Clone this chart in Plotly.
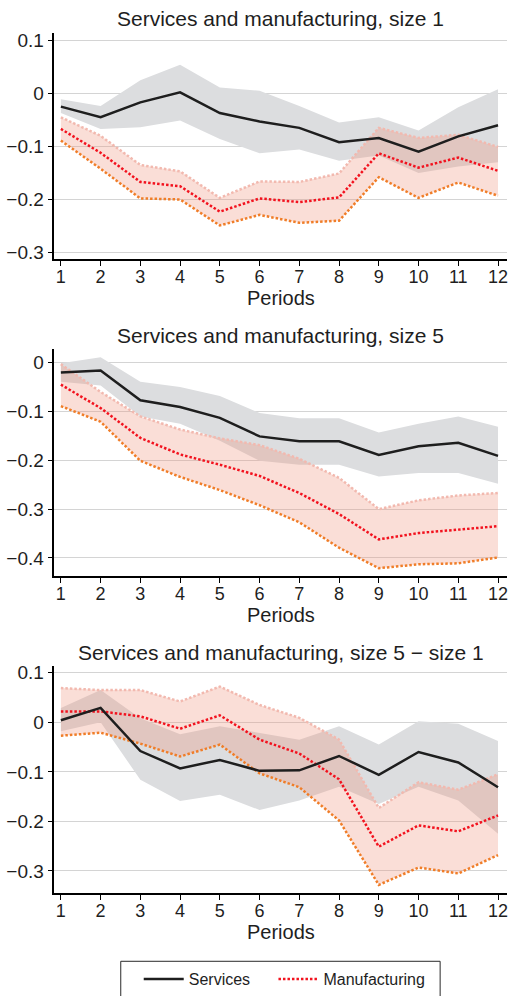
import plotly.graph_objects as go

# Horizon (periods after the shock)
periods = list(range(1, 13))

# Panel 1: size 1
svc1 = [-0.025, -0.045, -0.017, 0.002, -0.037, -0.053, -0.065, -0.092, -0.084, -0.110, -0.081, -0.060]
svc1_hi = [-0.011, -0.024, 0.025, 0.054, 0.011, 0.005, -0.024, -0.055, -0.045, -0.070, -0.026, 0.008]
svc1_lo = [-0.037, -0.067, -0.064, -0.051, -0.086, -0.113, -0.106, -0.127, -0.117, -0.150, -0.138, -0.130]
man1 = [-0.067, -0.112, -0.167, -0.175, -0.223, -0.198, -0.205, -0.196, -0.113, -0.140, -0.121, -0.146]
man1_hi = [-0.045, -0.080, -0.135, -0.147, -0.197, -0.166, -0.167, -0.151, -0.065, -0.084, -0.078, -0.101]
man1_lo = [-0.089, -0.142, -0.198, -0.200, -0.249, -0.229, -0.244, -0.240, -0.158, -0.197, -0.168, -0.193]

# Panel 2: size 5
svc5 = [-0.020, -0.016, -0.077, -0.091, -0.113, -0.151, -0.161, -0.161, -0.189, -0.171, -0.164, -0.191]
svc5_hi = [-0.001, 0.011, -0.039, -0.050, -0.068, -0.103, -0.114, -0.114, -0.143, -0.125, -0.110, -0.131]
svc5_lo = [-0.039, -0.047, -0.110, -0.125, -0.160, -0.201, -0.209, -0.209, -0.233, -0.226, -0.226, -0.248]
man5 = [-0.045, -0.093, -0.154, -0.188, -0.209, -0.232, -0.267, -0.310, -0.362, -0.349, -0.342, -0.335]
man5_hi = [-0.003, -0.060, -0.110, -0.137, -0.155, -0.169, -0.197, -0.236, -0.300, -0.282, -0.272, -0.267]
man5_lo = [-0.089, -0.121, -0.201, -0.234, -0.261, -0.292, -0.327, -0.379, -0.421, -0.413, -0.411, -0.399]

# Panel 3: size 5 - size 1
svcd = [0.004, 0.029, -0.058, -0.093, -0.076, -0.098, -0.097, -0.068, -0.106, -0.060, -0.081, -0.131]
svcd_hi = [0.029, 0.065, 0.008, -0.024, -0.008, -0.021, -0.035, -0.008, -0.045, 0.002, -0.003, -0.038]
svcd_lo = [-0.018, 0.000, -0.116, -0.159, -0.146, -0.177, -0.158, -0.130, -0.165, -0.130, -0.158, -0.225]
mand = [0.022, 0.022, 0.012, -0.013, 0.014, -0.035, -0.063, -0.115, -0.251, -0.208, -0.220, -0.188]
mand_hi = [0.069, 0.065, 0.065, 0.042, 0.072, 0.035, 0.009, -0.035, -0.173, -0.121, -0.136, -0.105]
mand_lo = [-0.027, -0.021, -0.043, -0.069, -0.045, -0.103, -0.131, -0.198, -0.328, -0.293, -0.305, -0.268]

titles = ["Services and manufacturing, size 1",
          "Services and manufacturing, size 5",
          "Services and manufacturing, size 5 \u2212 size 1"]
y_ticks = [
    [0.1, 0.0, -0.1, -0.2, -0.3],
    [0.0, -0.1, -0.2, -0.3, -0.4],
    [0.1, 0.0, -0.1, -0.2, -0.3],
]
y_ticklabels = [
    ["0.1", "0", "\u22120.1", "\u22120.2", "\u22120.3"],
    ["0", "\u22120.1", "\u22120.2", "\u22120.3", "\u22120.4"],
    ["0.1", "0", "\u22120.1", "\u22120.2", "\u22120.3"],
]
x_label = "Periods"
legend_names = ["Services", "Manufacturing"]

panels = [
    (svc1, svc1_hi, svc1_lo, man1, man1_hi, man1_lo),
    (svc5, svc5_hi, svc5_lo, man5, man5_hi, man5_lo),
    (svcd, svcd_hi, svcd_lo, mand, mand_hi, mand_lo),
]

W, H = 509, 996
FONT = "Liberation Sans, Arial, Helvetica, sans-serif"
TXT = "rgb(30,30,30)"

GRAY_BAND = "rgb(220,221,223)"
PINK_BAND = "rgba(238,145,122,0.30)"
BLACK = "rgb(30,30,30)"
RED = "rgb(242,18,30)"
ORANGE = "rgb(240,125,40)"
PINK_EDGE = "rgb(242,185,175)"
DOT = "2.5px,2px"

# pixel boxes of each plot area: (top, bottom)
boxes = [(29, 258), (349, 578.3), (669, 898.3)]
y_ranges = [(-0.313, 0.1144), (-0.438, 0.027), (-0.345, 0.113)]
x_left, x_right = 54.5, 508
x_range = [0.837, 12.226]

fig = go.Figure()

for i, (svc, svc_hi, svc_lo, man, man_hi, man_lo) in enumerate(panels):
    ax = "" if i == 0 else str(i + 1)
    xa, ya = "x" + ax, "y" + ax
    first = i == 0

    # services confidence band
    fig.add_trace(go.Scatter(x=periods, y=svc_hi, mode="lines", line=dict(width=0),
                             hoverinfo="skip", showlegend=False, xaxis=xa, yaxis=ya))
    fig.add_trace(go.Scatter(x=periods, y=svc_lo, mode="lines", line=dict(width=0),
                             fill="tonexty", fillcolor=GRAY_BAND,
                             hoverinfo="skip", showlegend=False, xaxis=xa, yaxis=ya))
    # manufacturing confidence band
    fig.add_trace(go.Scatter(x=periods, y=man_hi, mode="lines",
                             line=dict(width=2.5, color=PINK_EDGE, dash=DOT),
                             hoverinfo="skip", showlegend=False, xaxis=xa, yaxis=ya))
    fig.add_trace(go.Scatter(x=periods, y=man_lo, mode="lines",
                             line=dict(width=2.5, color=ORANGE, dash=DOT),
                             fill="tonexty", fillcolor=PINK_BAND,
                             hoverinfo="skip", showlegend=False, xaxis=xa, yaxis=ya))
    # point estimates
    fig.add_trace(go.Scatter(x=periods, y=man, mode="lines", name=legend_names[1],
                             line=dict(width=2.5, color=RED, dash=DOT),
                             showlegend=first, legend="legend2", xaxis=xa, yaxis=ya))
    fig.add_trace(go.Scatter(x=periods, y=svc, mode="lines", name=legend_names[0],
                             line=dict(width=2.5, color=BLACK),
                             showlegend=first, legend="legend", xaxis=xa, yaxis=ya))

    top, bot = boxes[i]
    fig.layout["xaxis" + ax] = dict(
        domain=[x_left / W, x_right / W], range=x_range, anchor=ya,
        tickmode="array", tickvals=periods, ticktext=[str(p) for p in periods],
        ticks="outside", ticklen=5, tickwidth=1.2, tickcolor="black",
        ticklabelstandoff=-5, ticklabeloverflow="allow",
        showline=True, linecolor="black", linewidth=1.5, showgrid=False, zeroline=False,
        tickfont=dict(family=FONT, size=18, color=TXT),
    )
    fig.layout["yaxis" + ax] = dict(
        domain=[1 - bot / H, 1 - top / H], range=list(y_ranges[i]), anchor=xa,
        tickmode="array", tickvals=y_ticks[i], ticktext=y_ticklabels[i],
        ticks="outside", ticklen=5, tickwidth=1.2, tickcolor="black",
        showline=True, linecolor="black", linewidth=1.5,
        showgrid=True, gridcolor="rgb(212,212,212)", gridwidth=1, zeroline=False,
        tickfont=dict(family=FONT, size=19, color=TXT),
    )
    cx = (x_left + x_right) / 2 / W
    fig.add_annotation(text=titles[i], x=cx, y=1 - (top - 14) / H, xref="paper", yref="paper",
                       showarrow=False, xanchor="center", yanchor="middle",
                       font=dict(family=FONT, size=21, color=TXT))
    fig.add_annotation(text=x_label, x=cx, y=1 - (bot + 39) / H, xref="paper", yref="paper",
                       showarrow=False, xanchor="center", yanchor="middle",
                       font=dict(family=FONT, size=20, color=TXT))

# legend frame around the two key entries
fig.add_shape(type="rect", xref="paper", yref="paper",
              x0=121 / W, x1=441 / W, y0=-0.01, y1=1 - 967 / H,
              line=dict(color="rgb(40,40,40)", width=1), fillcolor="white", layer="below")

legend_common = dict(orientation="h", yanchor="middle", y=1 - 985 / H,
                     borderwidth=0, bgcolor="rgba(0,0,0,0)",
                     font=dict(family=FONT, size=16, color=TXT), itemwidth=40)
fig.update_layout(
    width=W, height=H, margin=dict(l=0, r=0, t=0, b=0),
    paper_bgcolor="white", plot_bgcolor="white",
    showlegend=True,
    legend=dict(x=139 / W, xanchor="left", **legend_common),
    legend2=dict(x=274 / W, xanchor="left", **legend_common),
)

fig.write_html("out.html")
